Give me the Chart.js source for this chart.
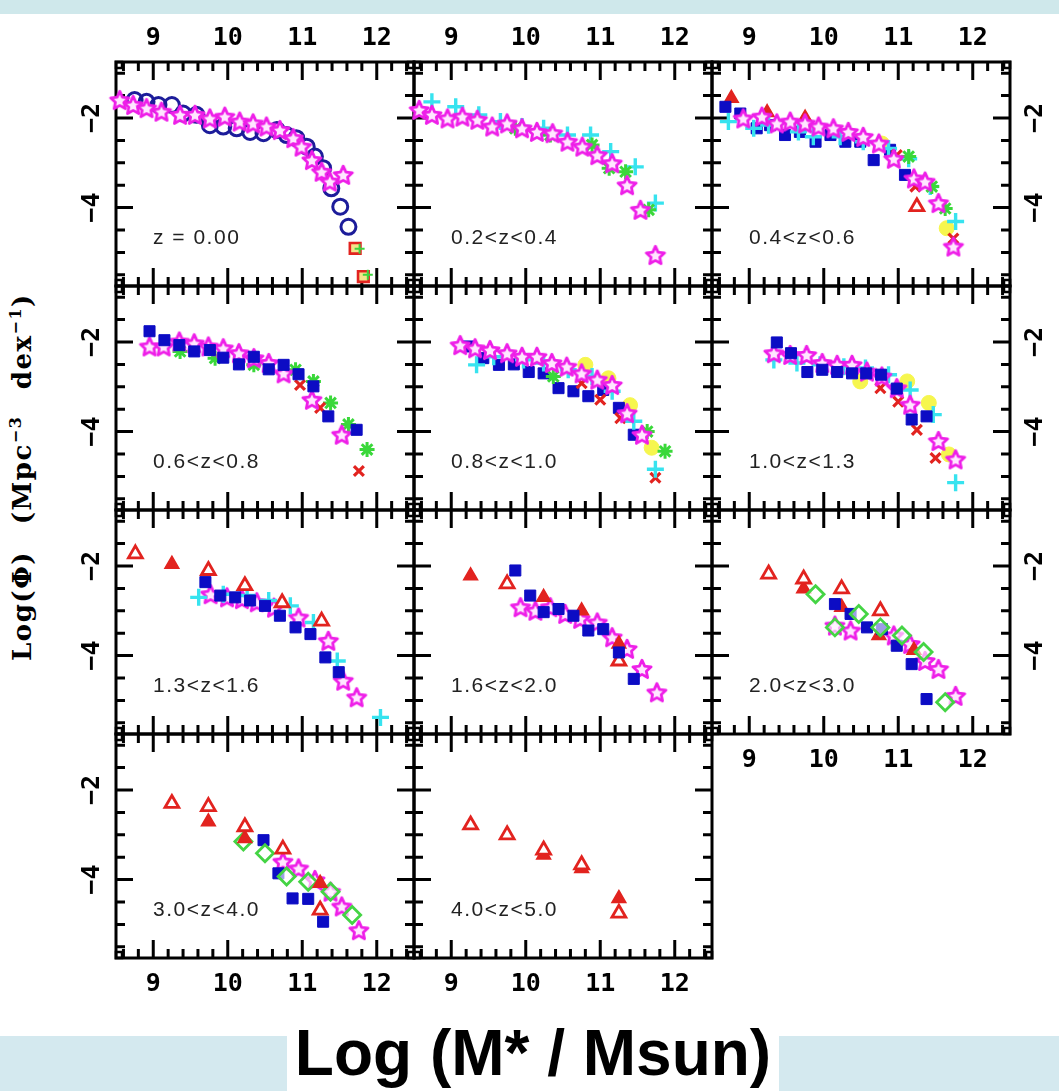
<!DOCTYPE html>
<html>
<head>
<meta charset="utf-8">
<script src="https://cdn.jsdelivr.net/npm/chart.js@4.4.0/dist/chart.umd.min.js"></script>
<style>
  html, body { margin: 0; padding: 0; width: 1059px; height: 1091px; overflow: hidden; background: #fff; }
  body { position: relative; font-family: 'Liberation Sans', Arial, sans-serif; }
  canvas.panel { position: absolute; }
  .zlabel { position: absolute; font-size: 21px; letter-spacing: 1.5px; color: #222; line-height: 21px; white-space: nowrap; }
  #topband { position: absolute; left: 0; top: 0; width: 1059px; height: 14px; background: #cfe8eb; }
  #bottomband { position: absolute; left: 0; top: 1036px; width: 1059px; height: 55px; background: #d4e9ef; }
  #xtitle { position: absolute; left: 287px; top: 1030px; width: 492px; height: 61px; background: #fff;
            font: bold 64px 'Liberation Sans', Arial, sans-serif; text-align: center; line-height: 46px; white-space: nowrap; }
  #ytitle { position: absolute; left: -188px; top: 462px; width: 420px; height: 30px; line-height: 30px;
            transform: rotate(-90deg); transform-origin: 50% 50%; text-align: center; white-space: nowrap;
            font: bold 26px 'DejaVu Serif', serif; letter-spacing: 1.5px; word-spacing: 16px; }
  #ytitle sup { font-size: 16px; vertical-align: 10px; line-height: 0; }
</style>
</head>
<body>
<div id="topband"></div>
<div id="bottomband"></div>
<div id="xtitle">Log (M* / Msun)</div>
<div id="ytitle">Log(Φ) (Mpc<sup>−3</sup> dex<sup>−1</sup>)</div>
<script>
// axes
const xTickValues = [9, 10, 11, 12];
const yTickValues = [-4, -2];
const xRange = [8.5, 12.5];
const yRange = [-5.75, -0.75];

const panelLabels = ['z = 0.00', '0.2<z<0.4', '0.4<z<0.6', '0.6<z<0.8', '0.8<z<1.0', '1.0<z<1.3',
                     '1.3<z<1.6', '1.6<z<2.0', '2.0<z<3.0', '3.0<z<4.0', '4.0<z<5.0'];

// z = 0.00
const z000Stars = [[8.55,-1.60],[8.73,-1.71],[8.91,-1.78],[9.11,-1.86],[9.36,-1.93],[9.56,-1.93],[9.76,-2.01],[9.96,-1.97],[10.16,-2.08],[10.34,-2.12],[10.52,-2.19],[10.70,-2.27],[10.88,-2.45],[10.99,-2.64],[11.13,-2.94],[11.26,-3.20],[11.37,-3.42],[11.55,-3.27]];
const z000Circles = [[8.75,-1.60],[8.91,-1.64],[9.07,-1.71],[9.25,-1.71],[9.40,-1.90],[9.58,-1.93],[9.76,-2.16],[9.94,-2.19],[10.12,-2.23],[10.30,-2.31],[10.48,-2.34],[10.66,-2.27],[10.79,-2.38],[10.92,-2.45],[11.06,-2.64],[11.17,-2.86],[11.28,-3.12],[11.39,-3.57],[11.51,-3.98],[11.62,-4.43]];
const z000Squares = [[11.71,-4.91],[11.82,-5.54]];
const z000Plus = [[11.77,-4.92],[11.88,-5.50]];

// 0.2 < z < 0.4
const z03Stars = [[8.57,-1.82],[8.74,-1.93],[8.95,-2.01],[9.15,-1.97],[9.35,-2.04],[9.55,-2.19],[9.75,-2.12],[9.95,-2.23],[10.15,-2.31],[10.36,-2.34],[10.56,-2.53],[10.76,-2.64],[10.96,-2.83],[11.16,-3.01],[11.36,-3.50],[11.54,-4.05],[11.74,-5.06]];
const z03Cross = [[8.74,-1.64],[9.06,-1.75],[9.37,-1.93],[9.66,-2.08],[9.95,-2.19],[10.24,-2.23],[10.56,-2.38],[10.87,-2.38],[11.14,-2.75],[11.47,-3.09],[11.74,-3.90]];
const z03Aster = [[9.86,-2.23],[10.33,-2.38],[10.89,-2.60],[11.12,-3.12],[11.34,-3.20],[11.65,-4.05]];

// 0.4 < z < 0.6
const z05Stars = [[8.92,-2.01],[9.17,-1.97],[9.37,-2.12],[9.55,-2.08],[9.75,-2.12],[9.93,-2.19],[10.13,-2.23],[10.33,-2.31],[10.53,-2.42],[10.74,-2.57],[10.94,-2.91],[11.21,-3.35],[11.36,-3.42],[11.54,-3.90],[11.74,-4.87]];
const z05Squares = [[8.68,-1.75],[8.88,-1.90],[9.10,-2.23],[9.28,-2.16],[9.48,-2.38],[9.68,-2.31],[9.89,-2.53],[10.09,-2.38],[10.29,-2.53],[10.49,-2.53],[10.67,-2.94],[10.89,-2.71],[11.09,-3.27]];
const z05Cross = [[8.72,-2.08],[9.06,-2.23],[9.26,-2.16],[9.66,-2.31],[9.86,-2.42],[10.22,-2.42],[10.53,-2.53],[10.87,-2.68],[11.14,-2.91],[11.43,-3.53],[11.77,-4.31]];
const z05TriFilled = [[8.76,-1.56],[9.24,-1.88],[9.75,-2.00]];
const z05TriOpen = [[11.25,-3.98]];
const z05X = [[10.98,-2.83],[11.23,-3.53],[11.74,-4.69]];
const z05Aster = [[11.14,-2.86],[11.45,-3.53],[11.63,-4.02]];
const z05Yellow = [[10.78,-2.57],[11.65,-4.46]];

// 0.6 < z < 0.8
const z07Stars = [[8.95,-2.10],[9.14,-2.10],[9.35,-1.99],[9.55,-2.03],[9.74,-2.10],[9.94,-2.14],[10.15,-2.25],[10.35,-2.36],[10.55,-2.47],[10.75,-2.70],[11.13,-3.29],[11.53,-4.07]];
const z07Squares = [[8.95,-1.76],[9.15,-1.96],[9.35,-2.07],[9.55,-2.21],[9.76,-2.18],[9.94,-2.35],[10.15,-2.50],[10.35,-2.33],[10.55,-2.61],[10.75,-2.51],[10.95,-2.72],[11.15,-2.99],[11.35,-3.66],[11.73,-3.96]];
const z07Aster = [[9.36,-2.21],[9.83,-2.36],[10.35,-2.51],[10.91,-2.62],[11.15,-2.88],[11.38,-3.36],[11.62,-3.84],[11.87,-4.40]];
const z07X = [[10.97,-2.96],[11.24,-3.47],[11.76,-4.88]];

// 0.8 < z < 1.0
const z09Stars = [[9.12,-2.07],[9.32,-2.14],[9.52,-2.18],[9.75,-2.25],[9.95,-2.33],[10.15,-2.33],[10.35,-2.47],[10.55,-2.55],[10.75,-2.70],[10.96,-2.84],[11.16,-2.96],[11.36,-3.59],[11.56,-4.07]];
const z09Squares = [[9.23,-2.10],[9.43,-2.36],[9.64,-2.51],[9.84,-2.50],[10.04,-2.67],[10.24,-2.70],[10.44,-3.03],[10.64,-3.10],[10.84,-3.21],[11.04,-3.07],[11.25,-3.47],[11.45,-4.07]];
const z09Cross = [[9.34,-2.51],[9.57,-2.33],[9.97,-2.40],[10.24,-2.47],[10.57,-2.62],[10.89,-2.77],[11.16,-3.10],[11.45,-3.77],[11.74,-4.84]];
const z09Yellow = [[10.80,-2.51],[11.11,-2.81],[11.40,-3.41],[11.69,-4.36]];
const z09Aster = [[10.37,-2.77],[11.63,-4.00],[11.87,-4.44]];
const z09X = [[10.75,-2.92],[11.00,-3.29],[11.27,-3.70],[11.74,-5.03]];

// 1.0 < z < 1.3
const z11Stars = [[9.33,-2.25],[9.55,-2.29],[9.77,-2.29],[9.98,-2.47],[10.18,-2.51],[10.38,-2.51],[10.58,-2.66],[10.78,-2.77],[10.98,-3.03],[11.16,-3.40],[11.54,-4.21],[11.77,-4.62]];
const z11Squares = [[9.37,-2.01],[9.56,-2.25],[9.78,-2.67],[9.98,-2.62],[10.18,-2.67],[10.38,-2.70],[10.57,-2.70],[10.77,-2.73],[10.98,-3.04],[11.18,-3.73],[11.38,-3.66]];
const z11Cross = [[9.33,-2.40],[9.64,-2.47],[9.95,-2.51],[10.27,-2.55],[10.56,-2.58],[10.87,-2.73],[11.16,-3.07],[11.47,-3.62],[11.77,-5.14]];
const z11Yellow = [[10.49,-2.88],[11.12,-2.88],[11.41,-3.36],[11.68,-4.51]];
const z11X = [[10.76,-3.03],[11.00,-3.33],[11.25,-3.96],[11.50,-4.59]];

// 1.3 < z < 1.6
const z14TriOpen = [[8.76,-1.73],[9.74,-2.10],[10.23,-2.44],[10.73,-2.82],[11.26,-3.23]];
const z14TriFilled = [[9.25,-1.96]];
const z14Squares = [[9.70,-2.36],[9.90,-2.66],[10.10,-2.70],[10.30,-2.77],[10.50,-2.89],[10.70,-3.11],[10.91,-3.37],[11.11,-3.52],[11.31,-4.04],[11.49,-4.37]];
const z14Cross = [[9.61,-2.70],[9.94,-2.63],[10.26,-2.66],[10.55,-2.77],[10.84,-2.89],[11.15,-3.26],[11.47,-4.12],[12.05,-5.38]];
const z14Stars = [[9.77,-2.63],[9.99,-2.70],[10.19,-2.74],[10.39,-2.81],[10.62,-2.93],[10.95,-3.15],[11.35,-3.67],[11.55,-4.56],[11.73,-4.93]];

// 1.6 < z < 2.0
const z18TriFilled = [[9.26,-2.22],[10.24,-2.70],[10.75,-3.00],[11.25,-3.74]];
const z18TriOpen = [[9.75,-2.40],[11.25,-4.12]];
const z18Squares = [[9.86,-2.10],[10.06,-2.66],[10.24,-3.03],[10.44,-2.96],[10.64,-3.11],[10.84,-3.44],[11.04,-3.41],[11.25,-3.93],[11.45,-4.52]];
const z18Stars = [[9.93,-2.92],[10.13,-3.00],[10.33,-2.92],[10.53,-3.07],[10.73,-3.18],[10.96,-3.26],[11.16,-3.59],[11.36,-3.85],[11.56,-4.30],[11.76,-4.82]];

// 2.0 < z < 3.0
const z25TriOpen = [[9.26,-2.18],[9.73,-2.29],[10.24,-2.51],[10.76,-3.00]];
const z25TriFilled = [[9.73,-2.51],[10.24,-2.92],[10.74,-3.55],[11.21,-3.88]];
const z25Diamonds = [[9.89,-2.63],[10.15,-3.37],[10.47,-3.07],[10.76,-3.37],[11.05,-3.55],[11.34,-3.92],[11.63,-5.04]];
const z25Squares = [[10.15,-2.85],[10.36,-3.07],[10.58,-3.37],[10.78,-3.41],[10.98,-3.78],[11.18,-4.19],[11.38,-4.97]];
const z25Stars = [[10.15,-3.33],[10.36,-3.44],[10.94,-3.55],[11.16,-3.74],[11.36,-4.12],[11.54,-4.30],[11.77,-4.90]];

// 3.0 < z < 4.0
const z35TriOpen = [[9.25,-2.30],[9.74,-2.37],[10.23,-2.82],[10.74,-3.32],[11.24,-4.68]];
const z35TriFilled = [[9.74,-2.71],[10.23,-3.08],[11.24,-4.08]];
const z35Diamonds = [[10.21,-3.15],[10.50,-3.41],[10.79,-3.93],[11.08,-4.05],[11.38,-4.27],[11.67,-4.79]];
const z35Squares = [[10.48,-3.12],[10.68,-3.86],[10.87,-4.42],[11.08,-4.43],[11.28,-4.94]];
const z35Stars = [[10.74,-3.60],[10.95,-3.75],[11.17,-4.01],[11.38,-4.27],[11.53,-4.60],[11.76,-5.13]];

// 4.0 < z < 5.0
const z45TriOpen = [[9.26,-2.78],[9.75,-3.00],[10.24,-3.34],[10.75,-3.67],[11.25,-4.75]];
const z45TriFilled = [[10.24,-3.45],[10.75,-3.75],[11.25,-4.42]];

function makeStar(stroke, fill) {
  const c = document.createElement('canvas');
  c.width = 24; c.height = 24;
  const g = c.getContext('2d');
  g.beginPath();
  for (let i = 0; i < 10; i++) {
    const r = i % 2 ? 4.6 : 9.6;
    const a = -Math.PI / 2 + i * Math.PI / 5;
    g.lineTo(12 + r * Math.cos(a), 12.8 + r * Math.sin(a));
  }
  g.closePath();
  g.fillStyle = fill;
  g.fill();
  g.lineWidth = 2.8;
  g.lineJoin = 'round';
  g.strokeStyle = stroke;
  g.stroke();
  return c;
}

const RED = '#e2231f';
const markers = {
  star:     { style: makeStar('#ee1ee8', '#ffe6ff'), radius: 9, bg: '#fff', border: '#ee1ee8', width: 0 },
  circle:   { style: 'circle', radius: 7.5, bg: 'rgba(0,0,0,0)', border: '#1c1c9a', width: 3 },
  square:   { style: 'rect', radius: 7.8, bg: '#0c0cc4', border: '#0c0cc4', width: 1 },
  redSq:    { style: 'rect', radius: 7.5, bg: '#f4e48a', border: RED, width: 2.6 },
  plus:     { style: 'cross', radius: 8.5, bg: '#37e3ef', border: '#37e3ef', width: 3.4 },
  smallPlus:{ style: 'cross', radius: 5, bg: '#3ed43e', border: '#3ed43e', width: 2 },
  aster:    { style: 'star', radius: 7.5, bg: '#3ad83a', border: '#3ad83a', width: 3 },
  xmark:    { style: 'crossRot', radius: 7, bg: RED, border: RED, width: 3.2 },
  yellow:   { style: 'circle', radius: 7.5, bg: '#f6f64e', border: '#f6f64e', width: 1 },
  triOpen:  { style: 'triangle', radius: 8, bg: '#fff', border: RED, width: 2.8 },
  triFill:  { style: 'triangle', radius: 8, bg: RED, border: RED, width: 1.5 },
  diamond:  { style: 'rectRot', radius: 8.5, bg: 'rgba(255,255,255,0.6)', border: '#44d444', width: 2.8 }
};

// first series is drawn on top
const panels = [
  { row: 0, col: 0, series: [[z000Stars, 'star'], [z000Circles, 'circle'], [z000Plus, 'smallPlus'], [z000Squares, 'redSq']] },
  { row: 0, col: 1, series: [[z03Stars, 'star'], [z03Aster, 'aster'], [z03Cross, 'plus']] },
  { row: 0, col: 2, series: [[z05Stars, 'star'], [z05X, 'xmark'], [z05Aster, 'aster'], [z05Cross, 'plus'], [z05Yellow, 'yellow'], [z05Squares, 'square'], [z05TriFilled, 'triFill'], [z05TriOpen, 'triOpen']] },
  { row: 1, col: 0, series: [[z07Squares, 'square'], [z07Stars, 'star'], [z07X, 'xmark'], [z07Aster, 'aster']] },
  { row: 1, col: 1, series: [[z09Stars, 'star'], [z09Cross, 'plus'], [z09X, 'xmark'], [z09Aster, 'aster'], [z09Squares, 'square'], [z09Yellow, 'yellow']] },
  { row: 1, col: 2, series: [[z11Squares, 'square'], [z11Stars, 'star'], [z11Cross, 'plus'], [z11X, 'xmark'], [z11Yellow, 'yellow']] },
  { row: 2, col: 0, series: [[z14TriOpen, 'triOpen'], [z14TriFilled, 'triFill'], [z14Squares, 'square'], [z14Cross, 'plus'], [z14Stars, 'star']] },
  { row: 2, col: 1, series: [[z18Squares, 'square'], [z18TriFilled, 'triFill'], [z18TriOpen, 'triOpen'], [z18Stars, 'star']] },
  { row: 2, col: 2, series: [[z25TriOpen, 'triOpen'], [z25Diamonds, 'diamond'], [z25Squares, 'square'], [z25TriFilled, 'triFill'], [z25Stars, 'star']] },
  { row: 3, col: 0, series: [[z35TriOpen, 'triOpen'], [z35TriFilled, 'triFill'], [z35Diamonds, 'diamond'], [z35Squares, 'square'], [z35Stars, 'star']] },
  { row: 3, col: 1, series: [[z45TriOpen, 'triOpen'], [z45TriFilled, 'triFill']] }
];

const PANEL_W = 298, PANEL_H = 224, LEFT0 = 116, TOP0 = 62, M = 50;
const tickFont = { family: "'DejaVu Sans Mono', monospace", size: 25, weight: 'bold' };
const minus = v => String(v).replace('-', '\u2212');

// box, inward ticks and the small corner squares
const framePlugin = {
  id: 'frame',
  beforeDatasetsDraw(chart) {
    const { ctx, chartArea: a, scales: { x, y } } = chart;
    ctx.save();
    ctx.strokeStyle = '#000';
    ctx.lineWidth = 3;
    ctx.strokeRect(a.left, a.top, a.right - a.left, a.bottom - a.top);
    ctx.beginPath();
    for (let k = 43; k <= 62; k++) {
      const px = x.getPixelForValue(k / 5);
      const len = k % 5 === 0 ? 18 : 9;
      ctx.moveTo(px, a.top); ctx.lineTo(px, a.top + len);
      ctx.moveTo(px, a.bottom); ctx.lineTo(px, a.bottom - len);
    }
    for (let k = -11; k <= -2; k++) {
      const py = y.getPixelForValue(k / 2);
      const len = yTickValues.includes(k / 2) ? 17 : 9;
      ctx.moveTo(a.left, py); ctx.lineTo(a.left + len, py);
      ctx.moveTo(a.right, py); ctx.lineTo(a.right - len, py);
    }
    ctx.stroke();
    ctx.lineWidth = 2.5;
    const s = 6;
    ctx.strokeRect(a.left, a.top, s, s);
    ctx.strokeRect(a.right - s, a.top, s, s);
    ctx.strokeRect(a.left, a.bottom - s, s, s);
    ctx.strokeRect(a.right - s, a.bottom - s, s, s);
    ctx.restore();
  }
};

panels.forEach((p, i) => {
  const x0 = LEFT0 + p.col * PANEL_W;
  const y0 = TOP0 + p.row * PANEL_H;
  const canvas = document.createElement('canvas');
  canvas.className = 'panel';
  canvas.width = PANEL_W + 2 * M;
  canvas.height = PANEL_H + 2 * M;
  canvas.style.left = (x0 - M) + 'px';
  canvas.style.top = (y0 - M) + 'px';
  document.body.appendChild(canvas);

  const xTop = p.row === 0;
  const xLabels = xTop || i >= 8;
  const yRight = p.col === 2;
  const yLabels = p.col === 0 || (p.col === 2 && p.row < 3);

  new Chart(canvas, {
    type: 'scatter',
    data: {
      datasets: p.series.map(([pts, key]) => {
        const m = markers[key];
        return {
          data: pts.map(([x, y]) => ({ x, y })),
          pointStyle: m.style,
          pointRadius: m.radius,
          pointBackgroundColor: m.bg,
          pointBorderColor: m.border,
          pointBorderWidth: m.width,
          showLine: false,
          clip: false
        };
      })
    },
    options: {
      responsive: false,
      animation: false,
      events: [],
      layout: {
        padding: {
          top: xTop ? 0 : M, bottom: xTop ? M : 0,
          left: yRight ? M : 0, right: yRight ? 0 : M
        }
      },
      plugins: { legend: { display: false }, tooltip: { enabled: false } },
      scales: {
        x: {
          type: 'linear', position: xTop ? 'top' : 'bottom',
          min: xRange[0], max: xRange[1],
          grid: { display: false, drawTicks: false }, border: { display: false },
          afterBuildTicks: s => { s.ticks = xTickValues.map(v => ({ value: v })); },
          afterFit: s => { s.height = M; },
          ticks: { display: xLabels, color: '#000', font: tickFont, padding: xTop ? 9 : 11, maxRotation: 0, callback: minus }
        },
        y: {
          type: 'linear', position: yRight ? 'right' : 'left',
          min: yRange[0], max: yRange[1],
          grid: { display: false, drawTicks: false }, border: { display: false },
          afterBuildTicks: s => { s.ticks = yTickValues.map(v => ({ value: v })); },
          afterFit: s => { s.width = M; },
          ticks: { display: yLabels, color: '#000', font: tickFont, padding: yRight ? 10 : 8,
                   minRotation: 90, maxRotation: 90, crossAlign: 'center', callback: minus }
        }
      }
    },
    plugins: [framePlugin]
  });

  const lab = document.createElement('div');
  lab.className = 'zlabel';
  lab.textContent = panelLabels[i];
  lab.style.left = (x0 + 37) + 'px';
  lab.style.top = (y0 + 164) + 'px';
  document.body.appendChild(lab);
});
</script>
</body>
</html>
